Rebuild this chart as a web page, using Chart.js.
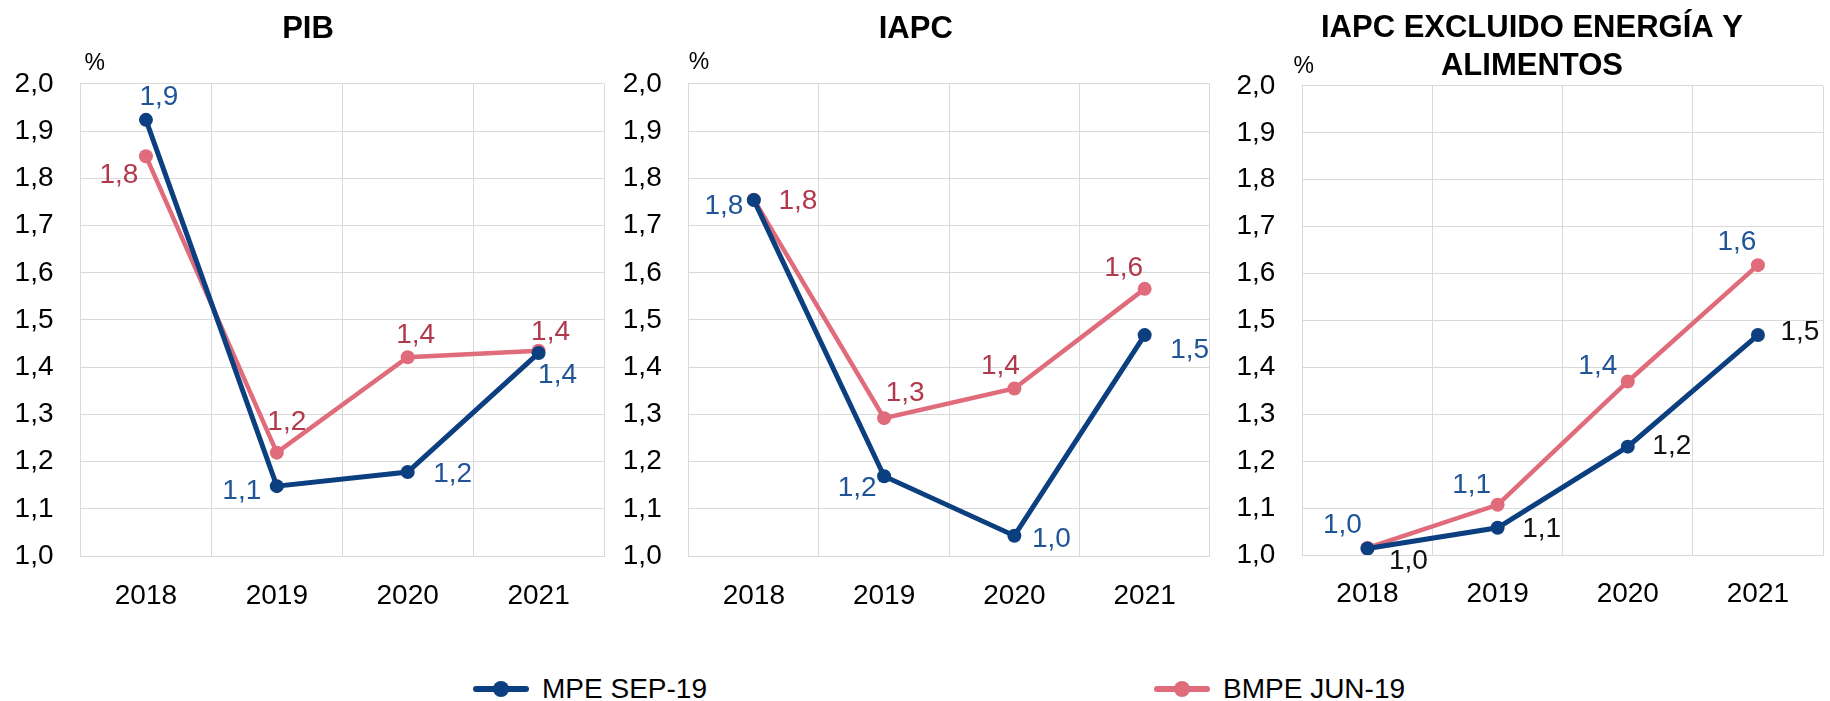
<!DOCTYPE html>
<html>
<head>
<meta charset="utf-8">
<script src="https://cdn.jsdelivr.net/npm/chart.js@4.4.1/dist/chart.umd.min.js"></script>
<style>
    body { margin: 0; background: #fff; }
    #wrap { position: relative; width: 1830px; height: 701px; overflow: hidden; background: #fff; }
    canvas { position: absolute; top: 0; }
    .legend-item { position: absolute; top: 673px; font: 28px 'Liberation Sans', Arial, sans-serif; color: #000; white-space: nowrap; line-height: 32px; }
    .swatch { display: inline-block; position: relative; width: 56px; height: 6px; border-radius: 3px; vertical-align: middle; margin-right: 13px; top: -2px; }
    .swatch::after { content: ''; position: absolute; left: 20px; top: -5px; width: 16px; height: 16px; border-radius: 50%; background: inherit; }
</style>
</head>
<body>
<div id="wrap">
    <canvas id="chart-pib" width="640" height="640" style="left:0"></canvas>
    <canvas id="chart-iapc" width="620" height="640" style="left:610px"></canvas>
    <canvas id="chart-sub" width="605" height="640" style="left:1225px"></canvas>
    <div class="legend-item" style="left:473px"><span class="swatch" style="background:#0b3f7f"></span>MPE SEP-19</div>
    <div class="legend-item" style="left:1154px"><span class="swatch" style="background:#e06c7b"></span>BMPE JUN-19</div>
</div>
<script>
// values
const years = ['2018', '2019', '2020', '2021'];
const seriesNames = ['MPE SEP-19', 'BMPE JUN-19'];

const pibMpe = [1.924, 1.148, 1.178, 1.430];
const pibBmpe = [1.847, 1.219, 1.421, 1.435];

const iapcMpe = [1.754, 1.169, 1.043, 1.468];
const iapcBmpe = [1.755, 1.292, 1.355, 1.566];

const subMpe = [1.014, 1.058, 1.231, 1.469];
const subBmpe = [1.015, 1.107, 1.370, 1.618];

const yMin = 1.0;
const yMax = 2.0;
const yStep = 0.1;

const colors = {
    blue: '#0b3f7f',
    pink: '#e06c7b',
    blueText: '#1f5497',
    pinkText: '#b2384b',
    black: '#111111',
    grid: '#d9d9d9'
};

Chart.defaults.font.family = "'Liberation Sans', Arial, sans-serif";
Chart.defaults.color = '#000';

const fmt = v => v.toFixed(1).replace('.', ',');

// draws the value next to every point, offset per point
const pointLabels = {
    id: 'pointLabels',
    afterDatasetsDraw(chart, args, opts) {
        const ctx = chart.ctx;
        ctx.save();
        ctx.font = "28px 'Liberation Sans', Arial, sans-serif";
        ctx.textAlign = 'center';
        ctx.textBaseline = 'middle';
        chart.data.datasets.forEach((ds, i) => {
            const meta = chart.getDatasetMeta(i);
            ctx.fillStyle = opts.colors[i];
            meta.data.forEach((pt, j) => {
                const off = opts.offsets[i][j];
                ctx.fillText(fmt(ds.data[j]), pt.x + off[0], pt.y + off[1]);
            });
        });
        ctx.restore();
    }
};

// the little "%" unit above the value axis
const unitLabel = {
    id: 'unitLabel',
    afterDraw(chart, args, opts) {
        const ctx = chart.ctx;
        ctx.save();
        ctx.font = "23px 'Liberation Sans', Arial, sans-serif";
        ctx.fillStyle = '#000';
        ctx.textBaseline = 'middle';
        ctx.fillText('%', chart.chartArea.left + opts.dx, chart.chartArea.top + opts.dy);
        ctx.restore();
    }
};

function makeChart(id, title, mpe, bmpe, cfg) {
    const ctx = document.getElementById(id).getContext('2d');
    return new Chart(ctx, {
        type: 'line',
        data: {
            labels: years,
            datasets: [
                {
                    label: seriesNames[0],
                    data: mpe,
                    borderColor: colors.blue,
                    backgroundColor: colors.blue,
                    borderWidth: 5,
                    pointRadius: 7,
                    pointBorderWidth: 0,
                    tension: 0
                },
                {
                    label: seriesNames[1],
                    data: bmpe,
                    borderColor: colors.pink,
                    backgroundColor: colors.pink,
                    borderWidth: 4.5,
                    pointRadius: 7,
                    pointBorderWidth: 0,
                    tension: 0
                }
            ]
        },
        options: {
            responsive: false,
            animation: false,
            layout: { padding: { left: cfg.padLeft, right: cfg.padRight, top: 0, bottom: 0 } },
            plugins: {
                legend: { display: false },
                tooltip: { enabled: false },
                title: {
                    display: true,
                    text: title,
                    color: '#000',
                    font: { size: 31, weight: 'bold', lineHeight: 1.235 },
                    padding: { top: cfg.titleTop, bottom: cfg.titleBottom }
                },
                pointLabels: { colors: cfg.labelColors, offsets: cfg.offsets },
                unitLabel: { dx: cfg.unitDx, dy: cfg.unitDy }
            },
            scales: {
                x: {
                    offset: true,
                    grid: { color: colors.grid, drawTicks: false, offset: true },
                    border: { color: colors.grid },
                    ticks: { color: '#000', font: { size: 28 }, padding: cfg.xPad },
                    afterFit: s => { s.height = cfg.xHeight; }
                },
                y: {
                    min: yMin,
                    max: yMax,
                    grid: { color: colors.grid, drawTicks: false },
                    border: { color: colors.grid },
                    ticks: {
                        stepSize: yStep,
                        color: '#000',
                        font: { size: 28 },
                        padding: 27,
                        callback: v => fmt(v)
                    },
                    afterFit: s => { s.width = cfg.yWidth; }
                }
            }
        },
        plugins: [pointLabels, unitLabel]
    });
}

makeChart('chart-pib', 'PIB', pibMpe, pibBmpe, {
    padLeft: 12, padRight: 36, yWidth: 68.5, xHeight: 84, xPad: 23,
    titleTop: 10, titleBottom: 35.7, unitDx: 4, unitDy: -20.5,
    labelColors: [colors.blueText, colors.pinkText],
    offsets: [
        [[13, -23], [-35, 5], [45, 2], [19, 22]],
        [[-27, 19], [10, -30], [8, -22], [12, -18]]
    ]
});

makeChart('chart-iapc', 'IAPC', iapcMpe, iapcBmpe, {
    padLeft: 11.7, padRight: 20.2, yWidth: 67, xHeight: 84, xPad: 23,
    titleTop: 10, titleBottom: 35.7, unitDx: 0, unitDy: -21.5,
    labelColors: [colors.blueText, colors.pinkText],
    offsets: [
        [[-30, 6], [-27, 12], [37, 4], [45, 15]],
        [[44, 2], [21, -25], [-14, -22], [-21, -21]]
    ]
});

makeChart('chart-sub', ['IAPC EXCLUIDO ENERGÍA Y', 'ALIMENTOS'], subMpe, subBmpe, {
    padLeft: 10.4, padRight: 1.5, yWidth: 67, xHeight: 85, xPad: 22,
    titleTop: 9, titleBottom: 0.4, unitDx: -9, unitDy: -19,
    labelColors: [colors.black, colors.blueText],
    offsets: [
        [[41, 13], [44, 1], [44, 0], [42, -3]],
        [[-25, -23], [-26, -20], [-30, -15], [-21, -23]]
    ]
});
</script>
</body>
</html>
